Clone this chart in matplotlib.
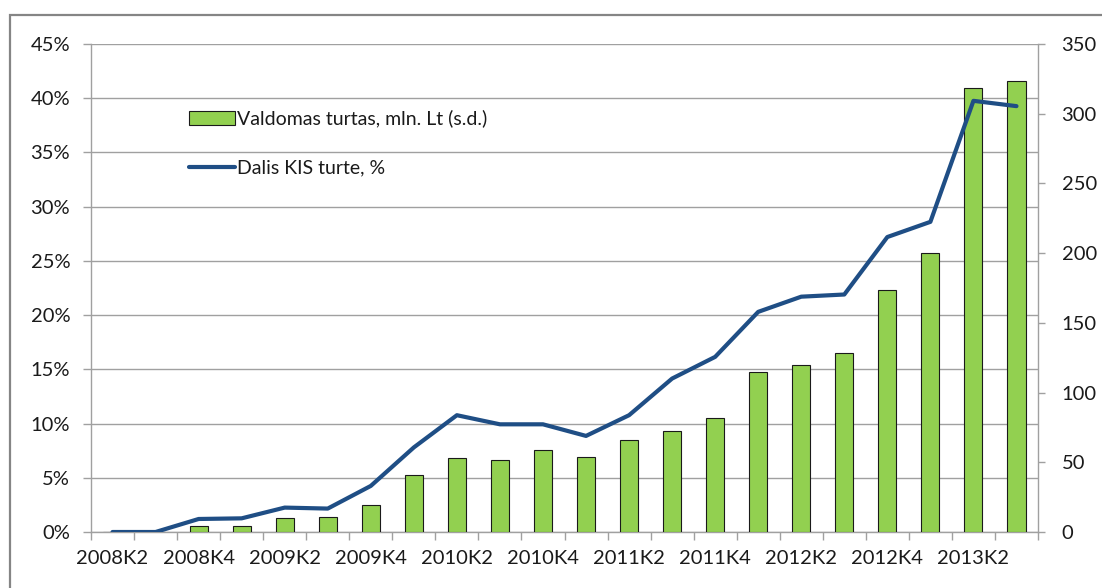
import matplotlib
matplotlib.use("Agg")
import matplotlib.pyplot as plt
from matplotlib.patches import Rectangle
import numpy as np

plt.rcParams['font.family'] = ['Lato', 'DejaVu Sans']

# ketvirčiai 2008K2 - 2013K3
quarters = ['2008K2', '2008K3', '2008K4', '2009K1', '2009K2', '2009K3', '2009K4',
            '2010K1', '2010K2', '2010K3', '2010K4', '2011K1', '2011K2', '2011K3',
            '2011K4', '2012K1', '2012K2', '2012K3', '2012K4', '2013K1', '2013K2',
            '2013K3']
assets_mln = [0, 0, 4.1, 4.1, 10.0, 10.8, 19.4, 41.2, 53.1, 51.4, 59.1, 54.1,
              65.8, 72.5, 82.1, 114.8, 119.8, 128.4, 173.4, 199.8, 318.6, 323.6]
share_pct = [0.0, 0.0, 1.2, 1.26, 2.25, 2.16, 4.25, 7.8, 10.77, 9.93, 9.93, 8.86,
             10.77, 14.15, 16.15, 20.3, 21.7, 21.9, 27.2, 28.6, 39.76, 39.27]

bar_label = 'Valdomas turtas, mln. Lt (s.d.)'
line_label = 'Dalis KIS turte, %'
left_ticks = [0, 5, 10, 15, 20, 25, 30, 35, 40, 45]
right_ticks = [0, 50, 100, 150, 200, 250, 300, 350]

W, H = 1102, 588
fig = plt.figure(figsize=(W / 100, H / 100), dpi=100)
pos = [91 / W, 1 - 532 / H, (1038 - 91) / W, (532 - 44) / H]

grid_c = '#a0a0a0'
txt_c = '#1a1a1a'
fs = 14.5
x = np.arange(len(quarters))

# apatinė ašis: procentai + tinklelis
ax = fig.add_axes(pos)
ax.set_xlim(-0.5, len(quarters) - 0.5)
ax.set_ylim(0, 45)
ax.set_yticks(left_ticks)
ax.set_yticklabels([f'{t}%' for t in left_ticks])
ax.yaxis.grid(True, color=grid_c, linewidth=1.0)
ax.set_axisbelow(True)
for s in ['top', 'right']:
    ax.spines[s].set_visible(False)
for s in ['left', 'bottom']:
    ax.spines[s].set_color(grid_c)
    ax.spines[s].set_linewidth(1.0)
ax.tick_params(axis='y', direction='out', length=6, width=1.0, color=grid_c,
               pad=9, labelsize=fs, labelcolor=txt_c)
ax.set_xticks(x[::2])
ax.set_xticklabels(quarters[::2])
ax.set_xticks(np.arange(len(quarters) + 1) - 0.5, minor=True)
ax.tick_params(axis='x', which='major', length=0, pad=13, labelsize=fs, labelcolor=txt_c)
ax.tick_params(axis='x', which='minor', direction='out', length=6, width=1.0, color=grid_c)

# dešinė ašis: stulpeliai
ax2 = ax.twinx()
ax2.bar(x, assets_mln, width=0.42, color='#92D050', edgecolor='#1a1a1a',
        linewidth=0.8, label=bar_label)
ax2.set_ylim(0, 350)
ax2.set_yticks(right_ticks)
for s in ['top', 'left', 'bottom']:
    ax2.spines[s].set_visible(False)
ax2.spines['right'].set_color(grid_c)
ax2.spines['right'].set_linewidth(1.0)
ax2.tick_params(axis='y', direction='out', length=5, width=1.0, color=grid_c,
                pad=12, labelsize=fs, labelcolor=txt_c)

# linija virš stulpelių
ax3 = fig.add_axes(pos, sharex=ax)
ax3.set_ylim(0, 45)
ax3.plot(x, share_pct, color='#1F4E85', linewidth=3.0, solid_joinstyle='round',
         solid_capstyle='round', label=line_label)
ax3.axis('off')
ax3.patch.set_visible(False)

handles = ax2.get_legend_handles_labels()[0] + ax3.get_legend_handles_labels()[0]
labels = [bar_label, line_label]
fig.legend(handles, labels, loc='upper left', bbox_to_anchor=(179 / W, 1 - 100 / H),
           bbox_transform=fig.transFigure, frameon=False, borderpad=0,
           handlelength=2.4, handleheight=0.7, handletextpad=0.1,
           labelspacing=1.65, fontsize=14, labelcolor=txt_c)

# rėmelis aplink diagramą
fig.patches.append(Rectangle((10 / W, -0.1), 1.2, 1 - 15 / H + 0.1,
                             transform=fig.transFigure, fill=False,
                             edgecolor='#858585', linewidth=1.6))

fig.savefig('out.png', dpi=100)
plt.close(fig)
